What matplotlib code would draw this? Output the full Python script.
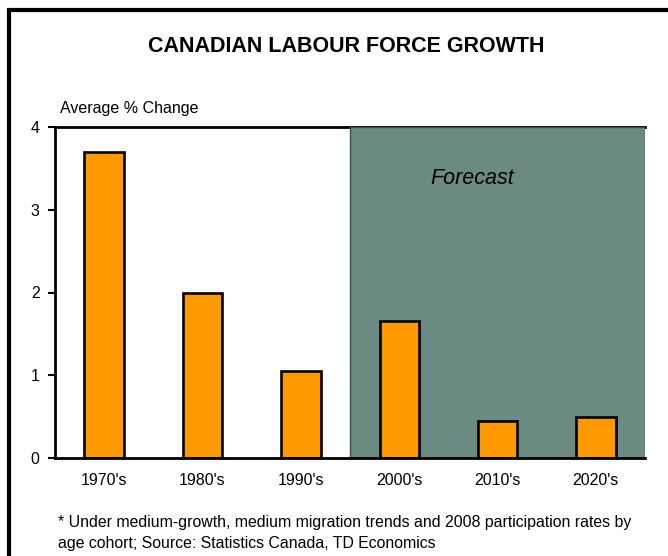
import matplotlib.pyplot as plt
from matplotlib.patches import Rectangle

plt.rcParams['font.family'] = ['Liberation Sans', 'DejaVu Sans']

decades = ["1970's", "1980's", "1990's", "2000's", "2010's", "2020's"]
avg_change = [3.7, 2.0, 1.05, 1.65, 0.45, 0.5]
y_ticks = [0, 1, 2, 3, 4]
forecast_start = 3  # first forecast decade

fig = plt.figure(figsize=(6.68, 5.56), dpi=100)

# outer frame running off the right and bottom edges
fig.patches.append(Rectangle((9 / 668, -0.2), 1.3, 0.2 + (556 - 9.5) / 556,
                             transform=fig.transFigure, fill=False,
                             edgecolor='black', linewidth=3, zorder=0))

ax = fig.add_axes([55 / 668, 98 / 556, 590 / 668, 331 / 556])
x = list(range(len(decades)))

ax.axvspan(forecast_start - 0.5, len(decades) - 0.5, ymin=0, ymax=1,
           facecolor='#6a8a82', edgecolor='#3c4c47', linewidth=1, zorder=3)
ax.bar(x, avg_change, width=0.4, color='#ff9900', edgecolor='black',
       linewidth=1.9, zorder=4)

ax.set_xlim(-0.5, len(decades) - 0.5)
ax.set_ylim(0, 4)
ax.set_yticks(y_ticks)
ax.set_xticks(x)
ax.set_xticklabels(decades)
ax.tick_params(axis='x', length=0, pad=11, labelsize=11.5)
ax.tick_params(axis='y', length=5, width=1.5, pad=6, labelsize=11.5)

for side in ['left', 'bottom', 'top']:
    ax.spines[side].set_linewidth(2)
ax.spines['bottom'].set_zorder(5)
ax.spines['right'].set_visible(False)

ax.text(3.74, 3.38, 'Forecast', fontsize=15.5, style='italic', ha='center',
        va='center', zorder=5)

fig.text(346 / 668, 1 - 46 / 556, 'CANADIAN LABOUR FORCE GROWTH',
         fontsize=15.5, fontweight='bold', ha='center', va='center')
fig.text(60 / 668, 1 - 108 / 556, 'Average % Change', fontsize=11.5,
         ha='left', va='center')
fig.text(58 / 668, 1 - 533 / 556,
         '* Under medium-growth, medium migration trends and 2008 participation rates by\n'
         'age cohort; Source: Statistics Canada, TD Economics',
         fontsize=11.4, ha='left', va='center', linespacing=1.45)

fig.savefig('out.png', dpi=100)
